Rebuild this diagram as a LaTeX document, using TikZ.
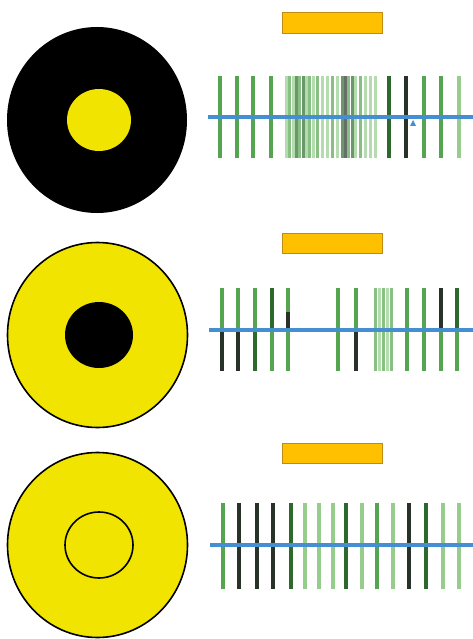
\documentclass[tikz,border=0pt]{standalone}
\usepackage{tikz}

\definecolor{discyellow}{RGB}{240,228,0}
\definecolor{barorange}{RGB}{255,192,0}
\definecolor{barframe}{RGB}{190,140,20}
\definecolor{axisblue}{RGB}{70,142,210}
\definecolor{glight}{RGB}{150,205,140}
\definecolor{gmid}{RGB}{85,165,80}
\definecolor{gdark}{RGB}{45,105,45}
\definecolor{gblack}{RGB}{40,50,40}

\tikzset{
  tick/.style={line width=3.4pt},
  thintick/.style={line width=3pt, opacity=0.7},
  axis/.style={axisblue, line width=4.5pt},
  label box/.style={fill=barorange, draw=barframe, line width=0.6pt}
}

\begin{document}
\begin{tikzpicture}[x=1pt,y=-1pt]
\useasboundingbox (0,0) rectangle (473,639);

% Discs
\fill[black] (97,120) ellipse [x radius=90, y radius=93];
\fill[discyellow] (99,120) ellipse [x radius=32, y radius=31];

\draw[fill=discyellow, line width=1.6pt] (97.5,335) ellipse [x radius=90, y radius=92.5];
\fill[black] (99,335) ellipse [x radius=34, y radius=33];

\draw[fill=discyellow, line width=1.6pt] (97.5,545) ellipse [x radius=90, y radius=92.5];
\draw[line width=1.6pt] (99,545) ellipse [x radius=34, y radius=33];

% Orange bars
\draw[label box] (282,12) rectangle (382,33);
\draw[label box] (282,233) rectangle (382,253);
\draw[label box] (282,443) rectangle (382,463);

% Top panel ticks
\foreach \x/\c in {220/gmid,237/gmid,253/gmid,271/gmid,389/gdark,406/gblack,424/gmid,441/gmid,459/glight}
  \draw[tick, \c] (\x,76) -- (\x,158);
\foreach \x/\c in {286/glight,289/gmid,293/glight,296/gdark,299/gmid,303/gdark,306/glight,309/gmid,313/glight,317/gmid,322/glight,327/glight,332/gmid,337/glight,342/gdark,345/gblack,348/gmid,352/gdark,355/glight,360/gmid,365/glight,370/glight,375/glight}
  \draw[thintick, \c] (\x,76) -- (\x,158);
\draw[axis] (208,117) -- (473,117);
\fill[axisblue] (413,120) -- (416,126) -- (410,126) -- cycle;

% Middle panel ticks (upper / lower half)
\foreach \x/\a/\b in {222/gmid/gblack,238/gmid/gblack,255/gmid/gdark,272/gdark/gmid,288/gmid/gmid,338/gmid/gmid,356/gmid/gblack,407/gmid/gmid,424/gmid/gmid,441/gblack/gmid,457/gdark/gmid}{
  \draw[tick, \a] (\x,288) -- (\x,330);
  \draw[tick, \b] (\x,330) -- (\x,371);
}
\draw[tick, gblack] (288,312) -- (288,328);
\foreach \x/\c in {375/gmid,379/glight,383/gmid,387/glight,391/gmid}
  \draw[thintick, \c] (\x,288) -- (\x,371);
\draw[axis] (209,330) -- (473,330);

% Bottom panel ticks
\foreach \x/\c in {223/gmid,239/gblack,257/gblack,273/gblack,291/gdark,305/glight,319/glight,333/glight,346/gdark,362/glight,377/gmid,393/glight,409/gblack,426/gdark,443/glight,459/glight}
  \draw[tick, \c] (\x,503) -- (\x,589);
\draw[axis] (210,545) -- (473,545);
\end{tikzpicture}
\end{document}
